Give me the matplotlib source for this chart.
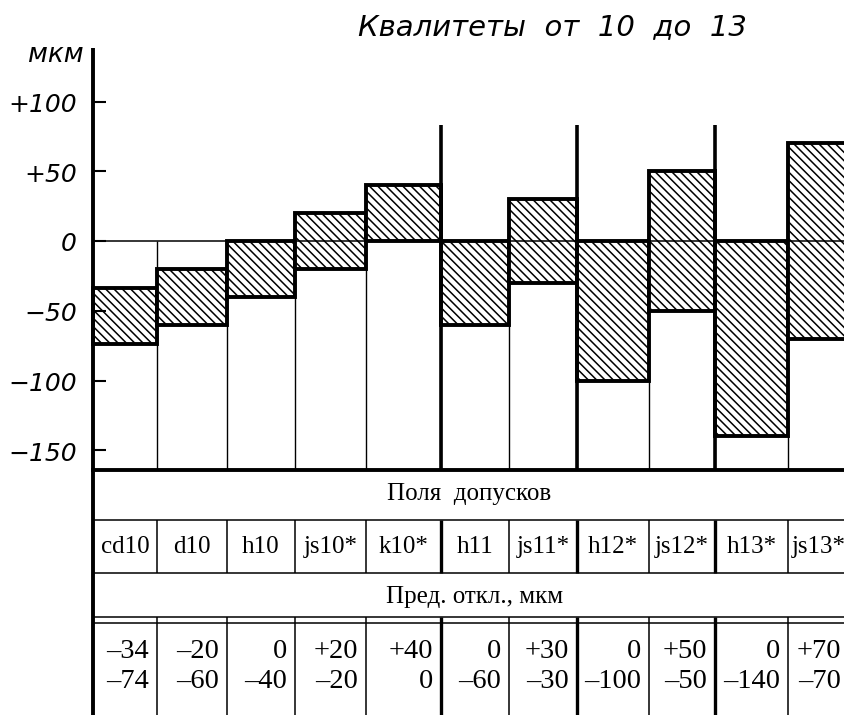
import matplotlib.pyplot as plt

# tolerance fields, grades 10..13 (upper / lower deviation, um)
fields = ['cd10', 'd10', 'h10', 'js10*', 'k10*', 'h11', 'js11*', 'h12*', 'js12*', 'h13*', 'js13*']
upper = [-34, -20, 0, 20, 40, 0, 30, 0, 50, 0, 70]
lower = [-74, -60, -40, -20, 0, -60, -30, -100, -50, -140, -70]

yticks = [100, 50, 0, -50, -100, -150]
ytick_labels = ['+100', '+50', '0', '\u221250', '\u2212100', '\u2212150']

title = 'Квалитеты  от  10  до  13'
unit = 'мкм'
row_fields = 'Поля  допусков'
row_dev = 'Пред. откл., мкм'

# layout, pixels
W, H = 844, 715
edges = [93, 157, 227, 295, 366, 441, 509, 577, 649, 715, 788, 849]
group_edges = [441, 577, 715]
zero_px = 241
px_per_um = 1.395
table_top = 470
axis_top = 48


def to_um(py):
    return (zero_px - py) / px_per_um


def fmt(v):
    if v > 0:
        return '+%d' % v
    if v < 0:
        return '\u2013%d' % (-v)
    return '0'


plt.rcParams['hatch.linewidth'] = 1.1
plt.rcParams['hatch.color'] = 'black'

fig = plt.figure(figsize=(W / 100, H / 100), dpi=100)

# chart part: x in px, y in um
ax = fig.add_axes([0, 0, 1, 1])
ax.set_xlim(0, W)
ax.set_ylim(to_um(H), to_um(0))
ax.axis('off')

lefts = edges[:-1]
widths = [edges[i + 1] - edges[i] for i in range(len(fields))]
heights = [u - l for u, l in zip(upper, lower)]

bottom_um = to_um(table_top)
ax.vlines(edges[1:-1], bottom_um, 0, colors='black', lw=1.0, zorder=1)
ax.bar(lefts, heights, width=widths, bottom=lower, align='edge',
       facecolor='white', edgecolor='black', hatch='\\\\\\\\', linewidth=2.8, zorder=2)
ax.hlines(0, edges[0], W, colors='black', lw=1.1, zorder=3)
ax.vlines(group_edges, bottom_um, to_um(125), colors='black', lw=2.6, zorder=3)

ax.hlines(yticks, edges[0], edges[0] + 13, colors='black', lw=1.5, zorder=3)
for v, lab in zip(yticks, ytick_labels):
    ax.text(77, v - 2.5, lab, ha='right', va='center', fontsize=18, style='italic')

# table part: pixel coordinates
tab = fig.add_axes([0, 0, 1, 1])
tab.set_xlim(0, W)
tab.set_ylim(H, 0)
tab.axis('off')
tab.patch.set_alpha(0)

tab.text(56, 55, unit, ha='center', va='center', fontsize=19, style='italic')
tab.text(552, 27, title, ha='center', va='center', fontsize=21, style='italic')

tab.vlines(edges[0], axis_top, H, colors='black', lw=2.8)
tab.hlines(table_top, edges[0] - 2, W, colors='black', lw=2.8)
tab.hlines([520, 573, 617, 623], edges[0], W, colors='black', lw=1.1)

for x in edges[1:-1]:
    lw = 2.4 if x in group_edges else 1.1
    tab.vlines(x, 520, 573, colors='black', lw=lw)
    tab.vlines(x, 617, H, colors='black', lw=lw)

serif = 'Liberation Serif'
tab.text(469, 494, row_fields, ha='center', va='center', fontsize=18, family=serif)
tab.text(475, 597, row_dev, ha='center', va='center', fontsize=18, family=serif)

for i, name in enumerate(fields):
    cx = (edges[i] + edges[i + 1]) / 2
    rx = edges[i + 1] - 8
    tab.text(cx, 547, name, ha='center', va='center', fontsize=18, family=serif)
    tab.text(rx, 652, fmt(upper[i]), ha='right', va='center', fontsize=20.5, family=serif)
    tab.text(rx, 681, fmt(lower[i]), ha='right', va='center', fontsize=20.5, family=serif)

fig.savefig('out.png', dpi=100)
